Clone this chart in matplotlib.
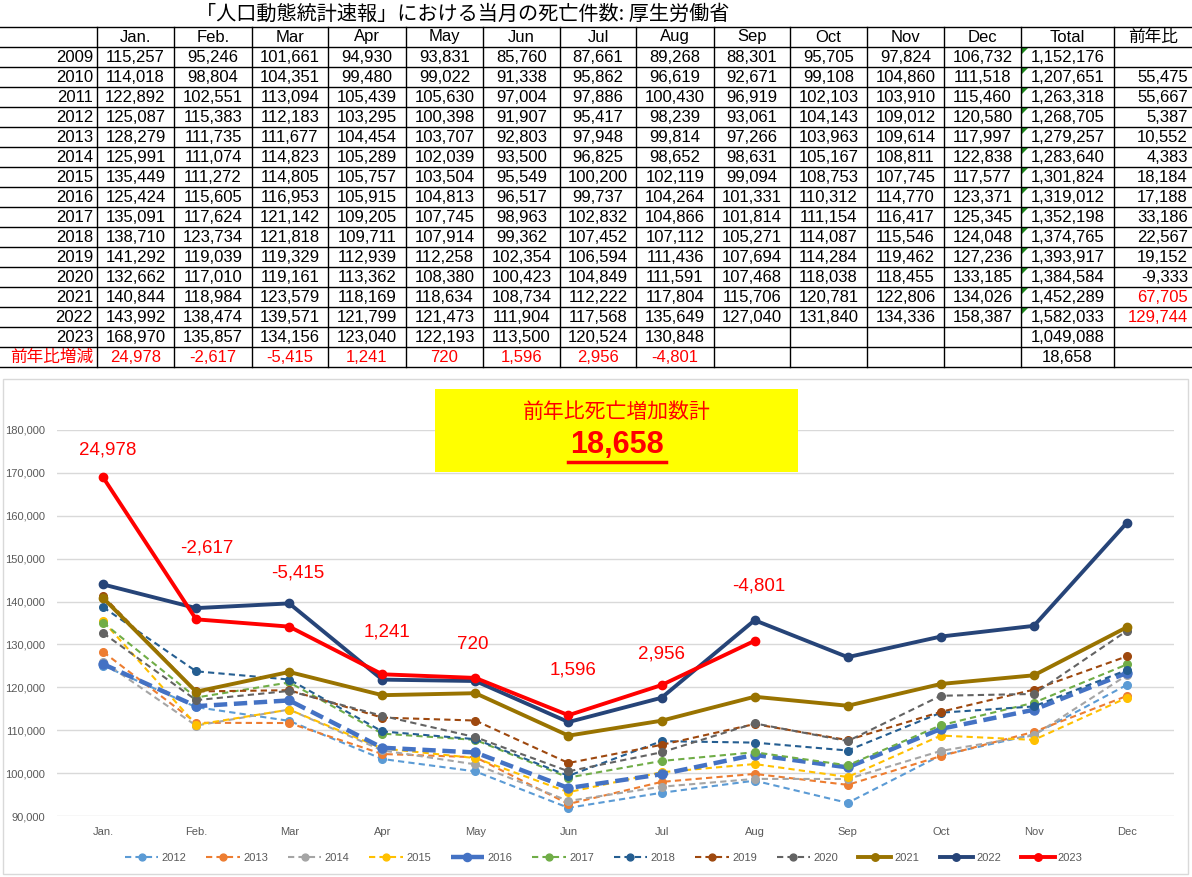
import numpy as np
import matplotlib.pyplot as plt
from matplotlib.patches import Rectangle, Polygon
from matplotlib.lines import Line2D
from matplotlib.ticker import FuncFormatter

plt.rcParams['font.family'] = ['Liberation Sans', 'Noto Sans CJK JP', 'DejaVu Sans']

# ---- data ----
months = ['Jan.', 'Feb.', 'Mar', 'Apr', 'May', 'Jun', 'Jul', 'Aug', 'Sep', 'Oct', 'Nov', 'Dec']
years = list(range(2009, 2024))
deaths = {
    2009: [115257, 95246, 101661, 94930, 93831, 85760, 87661, 89268, 88301, 95705, 97824, 106732],
    2010: [114018, 98804, 104351, 99480, 99022, 91338, 95862, 96619, 92671, 99108, 104860, 111518],
    2011: [122892, 102551, 113094, 105439, 105630, 97004, 97886, 100430, 96919, 102103, 103910, 115460],
    2012: [125087, 115383, 112183, 103295, 100398, 91907, 95417, 98239, 93061, 104143, 109012, 120580],
    2013: [128279, 111735, 111677, 104454, 103707, 92803, 97948, 99814, 97266, 103963, 109614, 117997],
    2014: [125991, 111074, 114823, 105289, 102039, 93500, 96825, 98652, 98631, 105167, 108811, 122838],
    2015: [135449, 111272, 114805, 105757, 103504, 95549, 100200, 102119, 99094, 108753, 107745, 117577],
    2016: [125424, 115605, 116953, 105915, 104813, 96517, 99737, 104264, 101331, 110312, 114770, 123371],
    2017: [135091, 117624, 121142, 109205, 107745, 98963, 102832, 104866, 101814, 111154, 116417, 125345],
    2018: [138710, 123734, 121818, 109711, 107914, 99362, 107452, 107112, 105271, 114087, 115546, 124048],
    2019: [141292, 119039, 119329, 112939, 112258, 102354, 106594, 111436, 107694, 114284, 119462, 127236],
    2020: [132662, 117010, 119161, 113362, 108380, 100423, 104849, 111591, 107468, 118038, 118455, 133185],
    2021: [140844, 118984, 123579, 118169, 118634, 108734, 112222, 117804, 115706, 120781, 122806, 134026],
    2022: [143992, 138474, 139571, 121799, 121473, 111904, 117568, 135649, 127040, 131840, 134336, 158387],
    2023: [168970, 135857, 134156, 123040, 122193, 113500, 120524, 130848],
}
totals = [1152176, 1207651, 1263318, 1268705, 1279257, 1283640, 1301824, 1319012,
          1352198, 1374765, 1393917, 1384584, 1452289, 1582033, 1049088]
yoy = [None, 55475, 55667, 5387, 10552, 4383, 18184, 17188, 33186, 22567, 19152, -9333,
       67705, 129744, None]
diff_2023 = [24978, -2617, -5415, 1241, 720, 1596, 2956, -4801]
diff_total = 18658

# label positions (data coords) for the red difference labels
label_x = [0.05, 0.12, 0.09, 0.05, -0.03, 0.05, 0.0, 0.04]
label_y = [175300, 152500, 146600, 132900, 129900, 124000, 127800, 143600]

chart_years = list(range(2012, 2024))
colors = {2012: '#5B9BD5', 2013: '#ED7D31', 2014: '#A5A5A5', 2015: '#FFC000',
          2016: '#4472C4', 2017: '#70AD47', 2018: '#255E91', 2019: '#9E480E',
          2020: '#636363', 2021: '#997300', 2022: '#264478', 2023: '#FF0000'}

W, H = 1192, 877
fig = plt.figure(figsize=(W / 100, H / 100), dpi=100)

# ---- table (pixel coordinates) ----
tab = fig.add_axes([0, 0, 1, 1])
tab.set_xlim(0, W)
tab.set_ylim(H, 0)
tab.axis('off')

col_edges = [0, 97, 174, 252, 328, 406, 483, 560, 636, 714, 790, 867, 944, 1021, 1114, 1192]
top = 27
row_h = 20
n_rows = 1 + len(years) + 1
bottom = top + n_rows * row_h

tab.text(463, 14, '「人口動態統計速報」における当月の死亡件数: 厚生労働省', fontsize=14.5,
         ha='center', va='center', family=['Noto Sans CJK JP'])

for i in range(n_rows + 1):
    tab.plot([0, W], [top + i * row_h] * 2, color='black', lw=1)
for x in col_edges[1:-1]:
    tab.plot([x, x], [top, bottom], color='black', lw=1)

fs = 12
headers = months + ['Total', '前年比']
for j, h in enumerate(headers):
    cx = (col_edges[j + 1] + col_edges[j + 2]) / 2
    tab.text(cx, top + row_h / 2, h, fontsize=fs, ha='center', va='center')

for i, y in enumerate(years):
    cy = top + (i + 1.5) * row_h
    tab.text(col_edges[1] - 4, cy, str(y), fontsize=fs, ha='right', va='center')
    for j, v in enumerate(deaths[y]):
        cx = (col_edges[j + 1] + col_edges[j + 2]) / 2
        tab.text(cx, cy, f'{v:,}', fontsize=fs, ha='center', va='center')
    cx = (col_edges[13] + col_edges[14]) / 2
    tab.text(cx, cy, f'{totals[i]:,}', fontsize=fs, ha='center', va='center')
    if yoy[i] is not None:
        c = 'red' if yoy[i] > 60000 else 'black'
        tab.text(col_edges[15] - 4, cy, f'{yoy[i]:,}', fontsize=fs, ha='right', va='center', color=c)
    if y <= 2022:
        x0 = col_edges[13] + 1
        y0 = top + (i + 1) * row_h + 1
        tab.add_patch(Polygon([[x0, y0], [x0 + 6, y0], [x0, y0 + 6]], closed=True,
                              color='#1E8C1E', lw=0))

cy = top + (n_rows - 0.5) * row_h
tab.text(col_edges[1] - 4, cy, '前年比増減', fontsize=fs, ha='right', va='center',
         color='red', family=['Noto Sans CJK JP'])
for j, v in enumerate(diff_2023):
    cx = (col_edges[j + 1] + col_edges[j + 2]) / 2
    tab.text(cx, cy, f'{v:,}', fontsize=fs, ha='center', va='center', color='red')
tab.text((col_edges[13] + col_edges[14]) / 2, cy, f'{diff_total:,}', fontsize=fs,
         ha='center', va='center')

# chart border
tab.add_patch(Rectangle((3, 379), 1185, 495, fill=False, ec='#D9D9D9', lw=1))

# ---- line chart ----
ax = fig.add_axes([56.5 / W, 1 - 816 / H, 1117 / W, (816 - 430) / H])
x = np.arange(12)
for y in chart_years:
    vals = deaths[y]
    xs = x[:len(vals)]
    if y == 2016:
        ax.plot(xs, vals, color=colors[y], lw=3.2, ls=(0, (3, 1.5)), marker='o', ms=6.5, label=str(y))
    elif y in (2021, 2022, 2023):
        ax.plot(xs, vals, color=colors[y], lw=2.8, marker='o', ms=6, label=str(y), zorder=4)
    else:
        ax.plot(xs, vals, color=colors[y], lw=1.5, ls=(0, (3, 2)), marker='o', ms=5.5, label=str(y))

for i, d in enumerate(diff_2023):
    ax.text(i + label_x[i], label_y[i], f'{d:,}', color='red', fontsize=13.5,
            ha='center', va='center')

ax.set_xlim(-0.5, 11.5)
ax.set_ylim(90000, 180000)
ax.set_yticks(np.arange(90000, 180001, 10000))
ax.yaxis.set_major_formatter(FuncFormatter(lambda v, p: f'{int(v):,}'))
ax.set_xticks(x)
ax.set_xticklabels(months)
ax.tick_params(axis='both', length=0, labelsize=8, labelcolor='#595959', pad=8)
ax.grid(axis='y', color='#D9D9D9', lw=1)
ax.set_axisbelow(True)
for s in ax.spines.values():
    s.set_visible(False)

ax.legend(loc='center', bbox_to_anchor=(0.49, (816 - 858) / (816 - 430)), ncol=12, frameon=False,
          fontsize=8, labelcolor='#595959', handlelength=3, columnspacing=1.8, handletextpad=0.3,
          markerscale=0.9)

# yellow box
box = fig.add_axes([435 / W, 1 - 472 / H, (798 - 435) / W, (472 - 389) / H])
box.set_facecolor('#FFFF00')
box.set_xticks([])
box.set_yticks([])
for s in box.spines.values():
    s.set_visible(False)
box.text(0.5, 0.72, '前年比死亡増加数計', color='red', fontsize=15, ha='center', va='center',
         family=['Noto Sans CJK JP'], transform=box.transAxes)
box.text(0.5, 0.32, f'{diff_total:,}', color='red', fontsize=22, fontweight='bold',
         ha='center', va='center', transform=box.transAxes)
box.add_line(Line2D([0.366, 0.636], [0.12, 0.12], color='red', lw=2.5, transform=box.transAxes))

fig.savefig('out.png', dpi=100)
